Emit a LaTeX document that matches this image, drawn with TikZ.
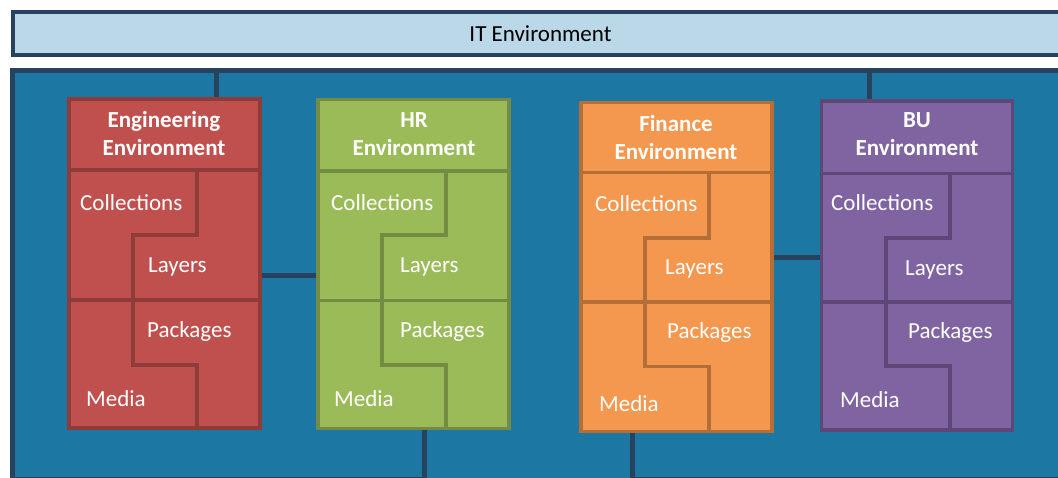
\documentclass[tikz,border=0pt]{standalone}
\usepackage{fontspec}
\setmainfont{Carlito}
\definecolor{itnavy}{HTML}{27425F}
\definecolor{itblue}{HTML}{1C77A3}
\definecolor{itlight}{HTML}{BBD8E8}
\definecolor{engfill}{HTML}{C0504D}
\definecolor{engline}{HTML}{8E3B39}
\definecolor{hrfill}{HTML}{9BBB59}
\definecolor{hrline}{HTML}{738B42}
\definecolor{finfill}{HTML}{F4974F}
\definecolor{finline}{HTML}{B56E35}
\definecolor{bufill}{HTML}{8064A2}
\definecolor{buline}{HTML}{5D4777}

\begin{document}
\begin{tikzpicture}[x=1pt, y=-1pt,
    itbar/.style ={rectangle, draw=itnavy, fill=itlight, line width=4pt, outer sep=0,
      anchor=north west, minimum width=1056, minimum height=43.5, font=\fontsize{23}{28}\selectfont},
    itframe/.style ={rectangle, draw=itnavy, fill=itblue, line width=5pt, outer sep=0,
      anchor=north west, minimum width=1100, minimum height=460},
    environment/.style ={rectangle, line width=3.5pt, outer sep=0, inner sep=0,
      minimum width=191, minimum height=329},
    divider/.style ={line width=3.5pt},
    link/.style ={draw=itnavy, line width=5pt, shorten <=1.75pt, shorten >=1.75pt},
    title/.style ={text=white, align=center, font=\bfseries\fontsize{23}{28}\selectfont},
    label/.style ={text=white, anchor=base west, inner sep=0, font=\fontsize{23}{28}\selectfont}]
   \useasboundingbox (0,0) rectangle (1058,477);
   \clip (0,0) rectangle (1058,477);

   \node[itbar] (itbar) at (12.5,11.5) {IT Environment};
   \node[itframe] (itbox) at (12,70) {};

   \coordinate (engup) at (216,70);
   \coordinate (buup) at (869,70);
   \coordinate (enghr) at (0,275);
   \coordinate (finbu) at (0,257.5);
   \coordinate (hrdown) at (424,479.5);
   \coordinate (findown) at (632,479.5);
   \coordinate (finend) at (1080,479.5);

   \node[environment, fill=engfill, draw=engline] (eng) at (164.5,263.5) {};
   \node[environment, fill=hrfill, draw=hrline] (hr) at (413.5,264) {};
   \node[environment, fill=finfill, draw=finline] (fin) at (676.5,267) {};
   \node[environment, fill=bufill, draw=buline] (bu) at (917,265.5) {};

   \draw[link] (engup) -- (engup |- eng.north);
   \draw[link] (buup) -- (buup |- bu.north);
   \draw[link] (eng.east |- enghr) -- (hr.west |- enghr);
   \draw[link] (fin.east |- finbu) -- (bu.west |- finbu);
   \draw[link] (hrdown |- hr.south) -- (hrdown) -- (itbox.west |- hrdown);
   \draw[link] (findown |- fin.south) -- (findown) -- (finend);

   \draw[divider, engline] (69,170) -- (260,170);
   \draw[divider, engline] (69,300) -- (260,300);
   \draw[divider, engline] (197,170) -- (197,235) -- (133,235) -- (133,365) -- (197,365) -- (197,428);
   \node[title] (engT) at (164,134) {Engineering\\Environment};
   \node[label] (engC) at (80,210) {Collections};
   \node[label] (engL) at (148,272) {Layers};
   \node[label] (engP) at (147,337) {Packages};
   \node[label] (engM) at (86,406) {Media};

   \draw[divider, hrline] (318,171) -- (509,171);
   \draw[divider, hrline] (318,300.5) -- (509,300.5);
   \draw[divider, hrline] (446,171) -- (446,235) -- (382,235) -- (382,365) -- (446,365) -- (446,428.5);
   \node[title] (hrT) at (414,134) {HR\\Environment};
   \node[label] (hrC) at (331,210) {Collections};
   \node[label] (hrL) at (400,272) {Layers};
   \node[label] (hrP) at (400,337) {Packages};
   \node[label] (hrM) at (334,406.5) {Media};

   \draw[divider, finline] (581,172.5) -- (772,172.5);
   \draw[divider, finline] (581,302) -- (772,302);
   \draw[divider, finline] (709,172.5) -- (709,238) -- (645,238) -- (645,366.5) -- (709,366.5) -- (709,431.5);
   \node[title] (finT) at (676,137.5) {Finance\\Environment};
   \node[label] (finC) at (595,211) {Collections};
   \node[label] (finL) at (665,274.5) {Layers};
   \node[label] (finP) at (667,338) {Packages};
   \node[label] (finM) at (599,411.5) {Media};

   \draw[divider, buline] (821.5,173.5) -- (1012.5,173.5);
   \draw[divider, buline] (821.5,302) -- (1012.5,302);
   \draw[divider, buline] (950,173.5) -- (950,238) -- (886,238) -- (886,366) -- (950,366) -- (950,430);
   \node[title] (buT) at (917,134.5) {BU\\Environment};
   \node[label] (buC) at (831,210.5) {Collections};
   \node[label] (buL) at (905,275.5) {Layers};
   \node[label] (buP) at (908,338) {Packages};
   \node[label] (buM) at (840,407) {Media};

 \end{tikzpicture}
\end{document}
